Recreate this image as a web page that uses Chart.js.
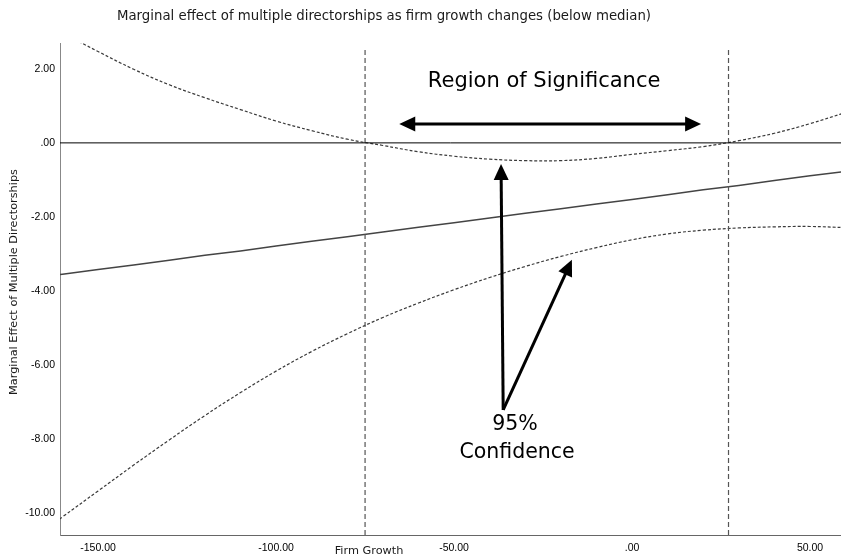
<!DOCTYPE html>
<html>
<head>
<meta charset="utf-8">
<script src="https://cdn.jsdelivr.net/npm/chart.js@4.4.1/dist/chart.umd.min.js"></script>
<style>
  html, body { margin:0; padding:0; background:#fff; }
  canvas { display:block; }
</style>
</head>
<body>
<canvas id="grafico" width="841" height="557"></canvas>
<script>
// DADOS
const firmGrowth = [-170,-160,-150,-140,-130,-120,-110,-100,-90,-80,-70,-60,-50,-40,-30,-20,-10,0,10,20,30,40,50,60];
const marginalEffect = [-3.68,-3.55,-3.42,-3.30,-3.17,-3.04,-2.92,-2.79,-2.66,-2.54,-2.41,-2.28,-2.16,-2.03,-1.90,-1.78,-1.65,-1.53,-1.40,-1.27,-1.15,-1.02,-0.89,-0.77];
const upperCI = [3.55,2.98,2.47,1.99,1.57,1.22,0.90,0.59,0.33,0.10,-0.07,-0.24,-0.36,-0.44,-0.48,-0.48,-0.42,-0.31,-0.21,-0.10,0.06,0.26,0.52,0.82];
const lowerCI = [-10.80,-10.11,-9.41,-8.71,-8.03,-7.37,-6.75,-6.17,-5.64,-5.16,-4.72,-4.33,-3.97,-3.64,-3.34,-3.07,-2.83,-2.62,-2.46,-2.36,-2.30,-2.27,-2.26,-2.29];
const jnPoints = [-75.0, 27.1];       // limites da região de significância
const xTicks = [-150, -100, -50, 0, 50];
const yTicks = [2, 0, -2, -4, -6, -8, -10];
const xRange = [-160.7, 58.7];
const yRange = [-10.6, 2.7];

const toXY = ys => firmGrowth.map((x, i) => ({ x, y: ys[i] }));
const fmt = v => { const s = Number(v).toFixed(2); return s === "0.00" ? ".00" : s; };

// LINHAS DE REFERÊNCIA
const zeroLine = [{ x: xRange[0], y: 0 }, { x: xRange[1], y: 0 }];
const jnLines = jnPoints.map(x => [{ x, y: yRange[0] }, { x, y: 2.58 }]);

// TEXTOS E SETAS
const textPlugin = {
  id: "textos",
  afterDraw(chart) {
    const ctx = chart.ctx;
    const sx = chart.scales.x, sy = chart.scales.y;
    const px = v => sx.getPixelForValue(v), py = v => sy.getPixelForValue(v);
    ctx.save();
    ctx.fillStyle = "#1a1a1a";
    ctx.textAlign = "center";
    ctx.textBaseline = "middle";

    ctx.font = "13.3px 'DejaVu Sans'";
    ctx.fillText("Marginal effect of multiple directorships as firm growth changes (below median)", 384, 17);

    ctx.font = "11.3px 'DejaVu Sans'";
    ctx.fillText("Firm Growth", 369, 551);

    ctx.save();
    ctx.translate(14, 282);
    ctx.rotate(-Math.PI / 2);
    ctx.font = "11.3px 'DejaVu Sans'";
    ctx.fillText("Marginal Effect of Multiple Directorships", 0, 0);
    ctx.restore();

    // anotações
    ctx.fillStyle = "#000";
    ctx.font = "21px 'DejaVu Sans'";
    ctx.fillText("Region of Significance", px(-24.7), py(1.65));
    ctx.font = "20.5px 'DejaVu Sans'";
    ctx.fillText("95%", px(-32.9), py(-7.62));
    ctx.fillText("Confidence", px(-32.3), py(-8.38));

    ctx.strokeStyle = "#000";
    ctx.lineWidth = 3;
    const arrow = (x1, y1, x2, y2, both) => {
      const a = Math.atan2(y2 - y1, x2 - x1), len = 16, half = 7.5;
      const head = (hx, hy, ang) => {
        ctx.beginPath();
        ctx.moveTo(hx, hy);
        ctx.lineTo(hx - len * Math.cos(ang) + half * Math.sin(ang), hy - len * Math.sin(ang) - half * Math.cos(ang));
        ctx.lineTo(hx - len * Math.cos(ang) - half * Math.sin(ang), hy - len * Math.sin(ang) + half * Math.cos(ang));
        ctx.closePath();
        ctx.fill();
      };
      const sx1 = both ? x1 + (len - 2) * Math.cos(a) : x1, sy1 = both ? y1 + (len - 2) * Math.sin(a) : y1;
      ctx.beginPath();
      ctx.moveTo(sx1, sy1);
      ctx.lineTo(x2 - (len - 2) * Math.cos(a), y2 - (len - 2) * Math.sin(a));
      ctx.stroke();
      head(x2, y2, a);
      if (both) head(x1, y1, a + Math.PI);
    };
    arrow(px(-65.4), py(0.51), px(19.4), py(0.51), true);
    arrow(px(-36.2), py(-7.22), px(-36.8), py(-0.57), false);
    arrow(px(-36.2), py(-7.22), px(-16.9), py(-3.16), false);
    ctx.restore();
  }
};

new Chart(document.getElementById("grafico"), {
  type: "line",
  data: {
    datasets: [
      { data: zeroLine, borderColor: "#000", borderWidth: 1, tension: 0 },
      ...jnLines.map(d => ({ data: d, borderColor: "#555", borderWidth: 1.2, borderDash: [5, 3], tension: 0 })),
      { data: toXY(marginalEffect), borderColor: "#444", borderWidth: 1.5, tension: 0 },
      { data: toXY(upperCI), borderColor: "#3a3a3a", borderWidth: 1.2, borderDash: [3, 2], tension: 0.4 },
      { data: toXY(lowerCI), borderColor: "#3a3a3a", borderWidth: 1.2, borderDash: [3, 2], tension: 0.4 }
    ]
  },
  options: {
    responsive: false,
    animation: false,
    layout: { padding: { top: 43, right: 0, bottom: 0, left: 0 } },
    elements: { point: { radius: 0 } },
    datasets: { line: { clip: 0 } },
    plugins: { legend: { display: false }, tooltip: { enabled: false }, title: { display: false } },
    scales: {
      x: {
        type: "linear", min: xRange[0], max: xRange[1],
        grid: { display: false, drawTicks: false },
        border: { display: true, color: "#666", width: 1 },
        afterBuildTicks: s => { s.ticks = xTicks.map(v => ({ value: v })); },
        afterFit: s => { s.height = 22; },
        ticks: { callback: fmt, padding: 7, maxRotation: 0, autoSkip: false, color: "#000",
                 font: { family: "'Liberation Sans'", size: 10.5 } }
      },
      y: {
        type: "linear", min: yRange[0], max: yRange[1],
        grid: { display: false, drawTicks: false },
        border: { display: true, color: "#888", width: 1 },
        afterBuildTicks: s => { s.ticks = yTicks.map(v => ({ value: v })); },
        afterFit: s => { s.width = 60; },
        ticks: { callback: fmt, padding: 5, autoSkip: false, color: "#000",
                 font: { family: "'Liberation Sans'", size: 10.5 } }
      }
    }
  },
  plugins: [textPlugin]
});
</script>
</body>
</html>
